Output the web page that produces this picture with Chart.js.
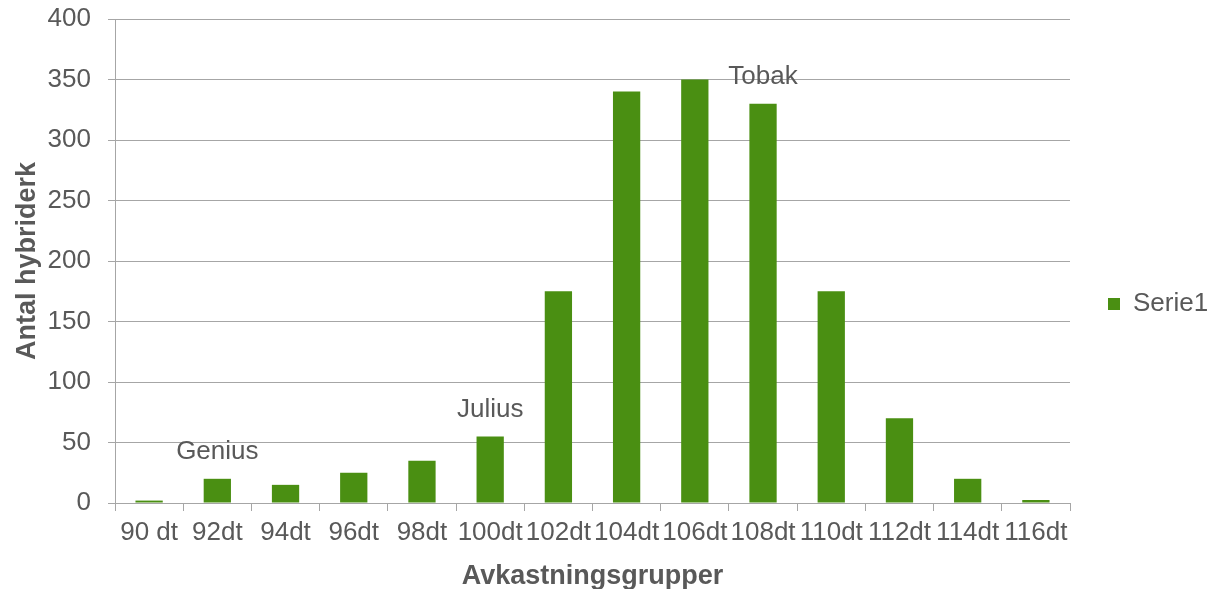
<!DOCTYPE html>
<html>
<head>
<meta charset="utf-8">
<script src="https://cdn.jsdelivr.net/npm/chart.js@4/dist/chart.umd.min.js"></script>
<style>
  html, body { margin: 0; padding: 0; background: #fff; }
  #wrap { width: 1211px; height: 589px; position: relative; }
</style>
</head>
<body>
<div id="wrap"><canvas id="c" width="1211" height="589"></canvas></div>
<script>
// Yield groups and number of hybrids in each
const categories = ['90 dt', '92dt', '94dt', '96dt', '98dt', '100dt', '102dt', '104dt', '106dt', '108dt', '110dt', '112dt', '114dt', '116dt'];
const serie1 = [2, 20, 15, 25, 35, 55, 175, 340, 350, 330, 175, 70, 20, 2.5];
const yTicks = [0, 50, 100, 150, 200, 250, 300, 350, 400];

// Named varieties placed above their group's bar
const noteNames = ['Genius', 'Julius', 'Tobak'];
const noteGroups = ['92dt', '100dt', '108dt'];

const GREEN = '#4a8f12';
const GRID = '#a6a6a6';
const TEXT = '#595959';
const FONT = "'Liberation Sans', Arial, sans-serif";
const FS = 26;
const TITLE_FS = 27;

const notesPlugin = {
  id: 'notes',
  afterDatasetsDraw(chart) {
    const { ctx, scales } = chart;
    ctx.save();
    ctx.font = FS + 'px ' + FONT;
    ctx.fillStyle = TEXT;
    ctx.textAlign = 'center';
    ctx.textBaseline = 'middle';
    noteNames.forEach((name, i) => {
      const idx = categories.indexOf(noteGroups[i]);
      const x = scales.x.getPixelForValue(idx);
      const y = scales.y.getPixelForValue(serie1[idx]) - 27;
      ctx.fillText(name, x, y);
    });
    ctx.restore();
  }
};

new Chart(document.getElementById('c'), {
  type: 'bar',
  data: {
    labels: categories,
    datasets: [{
      label: 'Serie1',
      data: serie1,
      backgroundColor: GREEN,
      borderWidth: 0,
      barPercentage: 0.4,
      categoryPercentage: 1.0
    }]
  },
  options: {
    responsive: false,
    animation: false,
    devicePixelRatio: 1,
    layout: { padding: { top: 19, right: 0, bottom: 0, left: 11 } },
    plugins: {
      legend: {
        position: 'right',
        align: 'center',
        maxWidth: 141,
        labels: {
          boxWidth: 12,
          boxHeight: 12,
          padding: 38,
          color: TEXT,
          font: { family: FONT, size: FS }
        }
      },
      tooltip: { enabled: false }
    },
    scales: {
      x: {
        offset: true,
        afterFit(axis) {
          axis.height = 86;
          axis.paddingLeft = 0;
          axis.paddingRight = 0;
        },
        grid: {
          display: true,
          offset: true,
          drawOnChartArea: false,
          drawTicks: true,
          tickLength: 8,
          color: GRID,
          lineWidth: 1
        },
        border: { display: true, color: GRID, width: 1 },
        ticks: {
          color: TEXT,
          font: { family: FONT, size: FS },
          padding: 6,
          maxRotation: 0,
          autoSkip: false
        },
        title: {
          display: true,
          text: 'Avkastningsgrupper',
          color: TEXT,
          font: { family: FONT, size: TITLE_FS, weight: 'bold' },
          padding: { top: 10, bottom: -4 }
        }
      },
      y: {
        min: 0,
        max: 400,
        afterBuildTicks(axis) { axis.ticks = yTicks.map(v => ({ value: v })); },
        afterFit(axis) {
          axis.width = 104;
          axis.paddingTop = 0;
          axis.paddingBottom = 0;
        },
        grid: {
          color: GRID,
          lineWidth: 1,
          drawTicks: true,
          tickLength: 7
        },
        border: { display: true, color: GRID, width: 1 },
        ticks: {
          color: TEXT,
          font: { family: FONT, size: FS },
          padding: 17
        },
        title: {
          display: true,
          text: 'Antal hybriderk',
          color: TEXT,
          font: { family: FONT, size: TITLE_FS, weight: 'bold' },
          padding: { top: 0, bottom: 7 }
        }
      }
    }
  },
  plugins: [notesPlugin]
});
</script>
</body>
</html>
